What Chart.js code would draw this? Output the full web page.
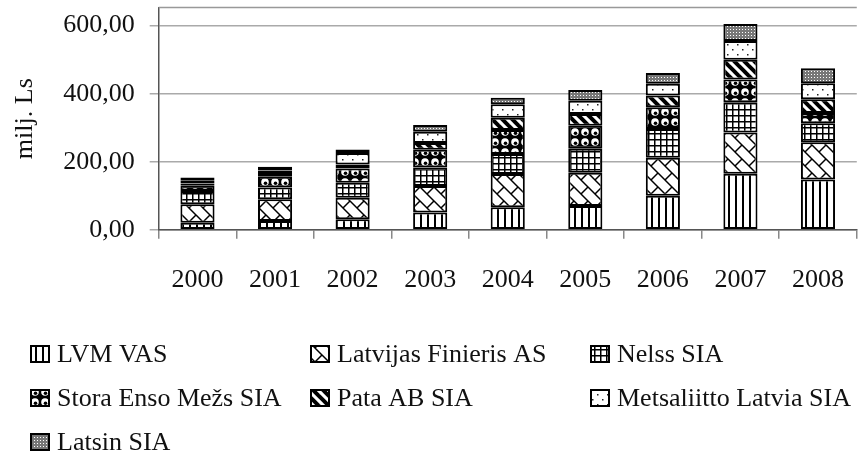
<!DOCTYPE html>
<html>
<head>
<meta charset="utf-8">
<script src="https://cdn.jsdelivr.net/npm/chart.js@4.4.1/dist/chart.umd.min.js"></script>
<style>
html, body { margin: 0; padding: 0; background: #fff; overflow: hidden; }
#wrap { width: 870px; height: 477px; margin-top: -23px; position: relative; }
</style>
</head>
<body>
<div id="wrap"><canvas id="firmChart"></canvas></div>
<script>
const years = ['2000', '2001', '2002', '2003', '2004', '2005', '2006', '2007', '2008'];
const lvmVas = [21, 26, 31, 51, 66, 70, 100, 165, 148];
const latvijasFinieris = [54, 64, 63, 78, 98, 98, 112, 121, 109];
const nelss = [39, 34, 44, 54, 59, 70, 84, 89, 56];
const storaEnso = [17, 32, 42, 52, 70, 68, 64, 67, 30];
const pataAb = [5, 8, 12, 20, 36, 34, 35, 58, 41];
const metsaliitto = [8, 10, 34, 33, 40, 39, 34, 55, 47];
const latsin = [10, 11, 10, 20, 19, 32, 32, 50, 44];
const yTicks = [0, 200, 400, 600];

const FONT = "'Liberation Serif', 'DejaVu Serif', serif";
const SHIFT = 23; // canvas is pulled up by this much (see #wrap)

// small tiles used as bar fills (black & white hatch like the print original)
function tile(size, draw) {
  const c = document.createElement('canvas');
  c.width = size; c.height = size;
  const ctx = c.getContext('2d');
  ctx.fillStyle = '#fff';
  ctx.fillRect(0, 0, size, size);
  draw(ctx, size);
  return ctx.createPattern(c, 'repeat');
}

function diag(ctx, s, w) {
  ctx.lineWidth = w;
  [-s, 0, s].forEach(o => {
    ctx.beginPath();
    ctx.moveTo(o - 2, -2);
    ctx.lineTo(o + s + 2, s + 2);
    ctx.stroke();
  });
}

const fills = {
  vertical: tile(7, (ctx, s) => { ctx.fillStyle = '#000'; ctx.fillRect(0, 0, 2, s); }),
  brick: tile(14, (ctx, s) => {
    ctx.strokeStyle = '#000';
    diag(ctx, s, 1.5);
    ctx.beginPath(); ctx.moveTo(7, 7); ctx.lineTo(14, 0); ctx.stroke();
  }),
  grid: tile(6, (ctx, s) => {
    ctx.fillStyle = '#000';
    ctx.fillRect(0, 0, s, 1.5);
    ctx.fillRect(0, 0, 1.5, s);
  }),
  sphere: tile(10, (ctx, s) => {
    ctx.fillStyle = '#000'; ctx.fillRect(0, 0, s, s);
    ctx.fillStyle = '#fff';
    ctx.beginPath(); ctx.arc(5, 5, 3.8, 0, Math.PI * 2); ctx.fill();
    ctx.fillStyle = '#000';
    ctx.beginPath(); ctx.arc(5.5, 6.3, 1.8, 0, Math.PI * 2); ctx.fill();
  }),
  wide: tile(10, (ctx, s) => { ctx.strokeStyle = '#000'; diag(ctx, s, 4); }),
  dots: tile(10, (ctx) => {
    ctx.fillStyle = '#222';
    ctx.fillRect(2, 2, 1.5, 1.5);
    ctx.fillRect(7, 7, 1.5, 1.5);
  }),
  stipple: tile(3, (ctx, s) => {
    ctx.fillStyle = '#777'; ctx.fillRect(0, 0, s, s);
    ctx.fillStyle = '#fff'; ctx.fillRect(1, 1, 1, 1);
  })
};

function series(label, data, fill) {
  return {
    label: label,
    data: data,
    backgroundColor: fill,
    borderColor: '#000',
    borderWidth: 2,
    borderSkipped: false,
    barPercentage: 0.44,
    categoryPercentage: 1
  };
}

const topBorder = {
  id: 'topBorder',
  beforeDatasetsDraw(chart) {
    const a = chart.chartArea, ctx = chart.ctx;
    ctx.save();
    ctx.strokeStyle = '#999';
    ctx.lineWidth = 1.5;
    ctx.beginPath();
    ctx.moveTo(a.left, a.top);
    ctx.lineTo(a.right, a.top);
    ctx.stroke();
    ctx.restore();
  }
};

const legendGrid = {
  id: 'legendGrid',
  afterDraw(chart) {
    const ctx = chart.ctx;
    ctx.save();
    ctx.font = '26px ' + FONT;
    ctx.textBaseline = 'middle';
    chart.data.datasets.forEach((ds, i) => {
      const x = 30 + (i % 3) * 280;
      const y = SHIFT + 354 + Math.floor(i / 3) * 44;
      ctx.fillStyle = ds.backgroundColor;
      ctx.fillRect(x, y - 9, 20, 18);
      ctx.lineWidth = 2;
      ctx.strokeStyle = '#000';
      ctx.strokeRect(x + 1, y - 8, 18, 16);
      ctx.fillStyle = '#111';
      ctx.fillText(ds.label, x + 27, y + 1);
    });
    ctx.restore();
  }
};

new Chart('firmChart', {
  type: 'bar',
  data: {
    labels: years,
    datasets: [
      series('LVM VAS', lvmVas, fills.vertical),
      series('Latvijas Finieris AS', latvijasFinieris, fills.brick),
      series('Nelss SIA', nelss, fills.grid),
      series('Stora Enso Mežs SIA', storaEnso, fills.sphere),
      series('Pata AB SIA', pataAb, fills.wide),
      series('Metsaliitto Latvia SIA', metsaliitto, fills.dots),
      series('Latsin SIA', latsin, fills.stipple)
    ]
  },
  options: {
    responsive: true,
    maintainAspectRatio: false,
    animation: false,
    layout: { padding: { top: 7, left: 10, right: 0, bottom: 132 } },
    plugins: {
      legend: { display: false },
      tooltip: { enabled: false }
    },
    scales: {
      x: {
        stacked: true,
        grid: { offset: true, drawOnChartArea: false, tickLength: 9, color: '#888', lineWidth: 1.5 },
        border: { color: '#555', width: 1.5 },
        ticks: { color: '#111', font: { family: FONT, size: 26 }, padding: 26, maxRotation: 0 }
      },
      y: {
        stacked: true,
        min: 0,
        max: 653,
        afterBuildTicks: scale => { scale.ticks = yTicks.map(v => ({ value: v })); },
        grid: { color: '#aaa', lineWidth: 1.5, tickLength: 9 },
        border: { color: '#555', width: 1.5 },
        ticks: {
          color: '#111',
          font: { family: FONT, size: 26 },
          padding: 15,
          callback: v => Number(v).toFixed(2).replace('.', ',')
        },
        title: {
          display: true,
          text: 'milj. Ls',
          color: '#111',
          font: { family: FONT, size: 26 },
          padding: { top: 0, bottom: 7 }
        }
      }
    }
  },
  plugins: [topBorder, legendGrid]
});
</script>
</body>
</html>
